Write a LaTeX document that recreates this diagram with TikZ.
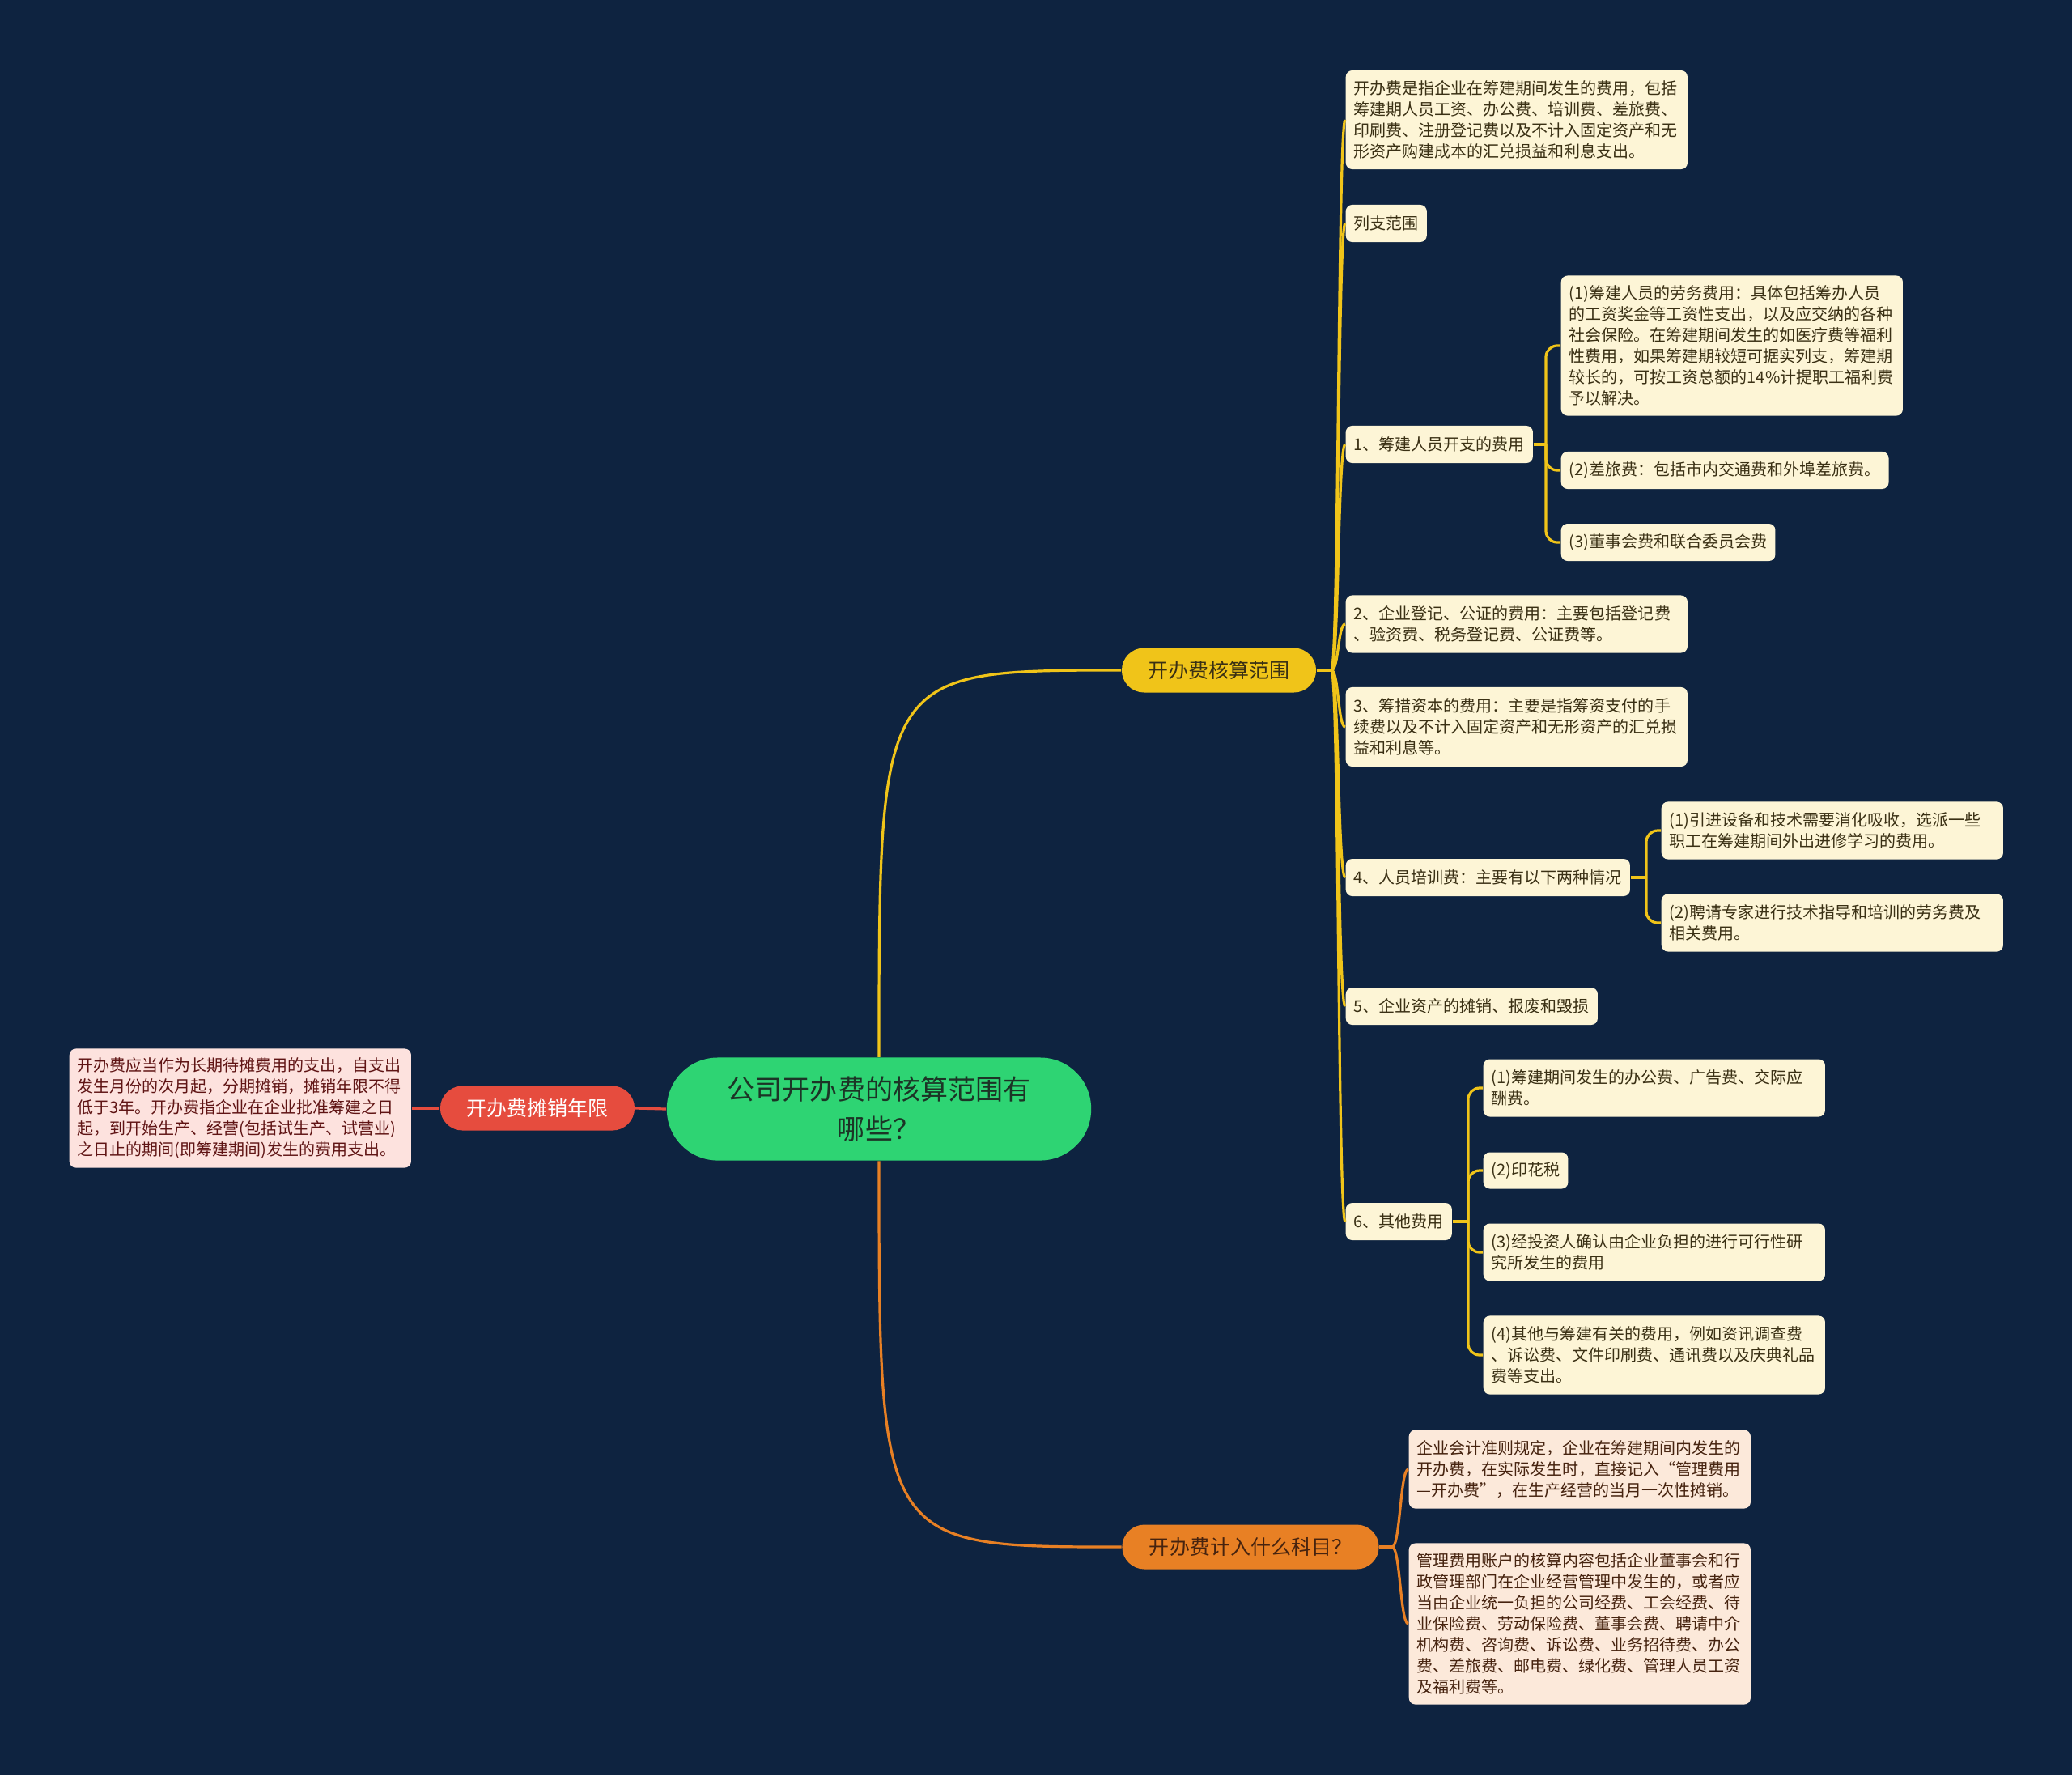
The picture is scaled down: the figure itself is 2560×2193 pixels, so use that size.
\documentclass[tikz,border=0pt]{standalone}
\usepackage{fontspec}
\setmainfont{Noto Sans CJK SC}
\newcommand\fsz[2]{\fontsize{#1}{#2}\selectfont}
\definecolor{bgc}{RGB}{14,35,64}
\definecolor{rootc}{RGB}{46,212,115}
\definecolor{roott}{RGB}{28,52,38}
\definecolor{cY}{RGB}{240,196,25}
\definecolor{cO}{RGB}{232,128,36}
\definecolor{cR}{RGB}{230,76,62}
\definecolor{leafY}{RGB}{253,245,214}
\definecolor{leafYt}{RGB}{58,48,20}
\definecolor{leafO}{RGB}{252,233,218}
\definecolor{leafOt}{RGB}{70,35,15}
\definecolor{leafR}{RGB}{253,226,222}
\definecolor{leafRt}{RGB}{95,20,20}
\tikzset{
  rootnode/.style={fill=rootc, text=roott, rounded corners=0.63cm, minimum width=5.24cm, minimum height=1.27cm, align=center, inner sep=0pt, font=\fsz{9.67pt}{13.66pt}},
  branch/.style={rounded corners=0.275cm, minimum height=0.55cm, inner sep=0pt, font=\fsz{7.11pt}{8.5pt}},
  leafbase/.style={rounded corners=0.08cm, inner xsep=0.1cm, inner ysep=0.05cm, anchor=west, align=left, font=\fsz{5.69pt}{7.4pt}},
  ly/.style={leafbase, fill=leafY, text=leafYt},
  lo/.style={leafbase, fill=leafO, text=leafOt},
  lr/.style={leafbase, fill=leafR, text=leafRt},
  wide/.style={text width=4.02cm},
  conY/.style={draw=cY, line width=0.032cm},
  conO/.style={draw=cO, line width=0.032cm},
  conR/.style={draw=cR, line width=0.032cm},
}
\begin{document}
\begin{tikzpicture}[x=0.01cm, y=-0.01cm]
\useasboundingbox (0,0) rectangle (2560,2193);
\fill[bgc] (0,0) rectangle (2560,2193);

% root and branches
\node[rootnode] (root) at (1086,1370) {公司开办费的核算范围有\\哪些？};
\node[branch, fill=cY, text=leafYt, minimum width=2.40cm] (b1) at (1506,828) {开办费核算范围};
\node[branch, fill=cO, text=leafOt, minimum width=3.17cm] (b2) at (1545,1911) {开办费计入什么科目？};
\node[branch, fill=cR, text=white, minimum width=2.40cm] (b3) at (664,1369) {开办费摊销年限};

% left leaf
\node[lr, wide, minimum height=1.47cm] (r1) at (85,1369) {开办费应当作为长期待摊费用的支出，自支出\\发生月份的次月起，分期摊销，摊销年限不得\\低于3年。开办费指企业在企业批准筹建之日\\起，到开始生产、经营(包括试生产、试营业)\\之日止的期间(即筹建期间)发生的费用支出。};

% yellow leaves
\node[ly, wide, minimum height=1.22cm] (a0) at (1662,148) {开办费是指企业在筹建期间发生的费用，包括\\筹建期人员工资、办公费、培训费、差旅费、\\印刷费、注册登记费以及不计入固定资产和无\\形资产购建成本的汇兑损益和利息支出。};
\node[ly, minimum height=0.46cm] (a1) at (1662,276) {列支范围};
\node[ly, minimum height=0.46cm] (a2) at (1662,549) {1、筹建人员开支的费用};
\node[ly, wide, minimum height=1.73cm] (a21) at (1928,427) {(1)筹建人员的劳务费用：具体包括筹办人员\\的工资奖金等工资性支出，以及应交纳的各种\\社会保险。在筹建期间发生的如医疗费等福利\\性费用，如果筹建期较短可据实列支，筹建期\\较长的，可按工资总额的14\%计提职工福利费\\予以解决。};
\node[ly, minimum height=0.46cm] (a22) at (1928,581) {(2)差旅费：包括市内交通费和外埠差旅费。};
\node[ly, minimum height=0.46cm] (a23) at (1928,670) {(3)董事会费和联合委员会费};
\node[ly, wide, minimum height=0.71cm] (a3) at (1662,771) {2、企业登记、公证的费用：主要包括登记费\\、验资费、税务登记费、公证费等。};
\node[ly, wide, minimum height=0.98cm] (a4) at (1662,898) {3、筹措资本的费用：主要是指筹资支付的手\\续费以及不计入固定资产和无形资产的汇兑损\\益和利息等。};
\node[ly, minimum height=0.46cm] (a5) at (1662,1084) {4、人员培训费：主要有以下两种情况};
\node[ly, wide, minimum height=0.71cm] (a51) at (2052,1026) {(1)引进设备和技术需要消化吸收，选派一些\\职工在筹建期间外出进修学习的费用。};
\node[ly, wide, minimum height=0.71cm] (a52) at (2052,1140) {(2)聘请专家进行技术指导和培训的劳务费及\\相关费用。};
\node[ly, minimum height=0.46cm] (a6) at (1662,1243) {5、企业资产的摊销、报废和毁损};
\node[ly, minimum height=0.46cm] (a7) at (1662,1509) {6、其他费用};
\node[ly, wide, minimum height=0.71cm] (a71) at (1832,1344) {(1)筹建期间发生的办公费、广告费、交际应\\酬费。};
\node[ly, minimum height=0.45cm] (a72) at (1832,1446) {(2)印花税};
\node[ly, wide, minimum height=0.71cm] (a73) at (1832,1547) {(3)经投资人确认由企业负担的进行可行性研\\究所发生的费用};
\node[ly, wide, minimum height=0.97cm] (a74) at (1832,1674) {(4)其他与筹建有关的费用，例如资讯调查费\\、诉讼费、文件印刷费、通讯费以及庆典礼品\\费等支出。};

% orange leaves
\node[lo, wide, minimum height=0.97cm] (o1) at (1740,1815) {企业会计准则规定，企业在筹建期间内发生的\\开办费，在实际发生时，直接记入“管理费用\\—开办费”，在生产经营的当月一次性摊销。};
\node[lo, wide, minimum height=1.99cm] (o2) at (1740,2006) {管理费用账户的核算内容包括企业董事会和行\\政管理部门在企业经营管理中发生的，或者应\\当由企业统一负担的公司经费、工会经费、待\\业保险费、劳动保险费、董事会费、聘请中介\\机构费、咨询费、诉讼费、业务招待费、办公\\费、差旅费、邮电费、绿化费、管理人员工资\\及福利费等。};

% root connectors
\draw[conY] (root.north) .. controls (1086,828) .. (b1.west);
\draw[conO] (root.south) .. controls (1086,1911) .. (b2.west);
\draw[conR] (root.west) -- (b3.east);
\draw[conR] (b3.west) -- (r1.east);

% yellow level 1
\coordinate (j1) at (1645,828);
\draw[conY] (b1.east) -- (j1);
\foreach \n in {a0,a1,a2,a3,a4,a5,a6,a7}
  \draw[conY] (j1) .. controls +(9,0) and +(-9,0) .. (\n.west);

% sub-branches
\coordinate (s2) at (1910,549);
\draw[conY] (a2.east) -- (s2);
\foreach \n in {a21,a22,a23}
  \draw[conY, rounded corners=0.14cm] (s2) |- (\n.west);
\coordinate (s5) at (2034,1084);
\draw[conY] (a5.east) -- (s5);
\foreach \n in {a51,a52}
  \draw[conY, rounded corners=0.14cm] (s5) |- (\n.west);
\coordinate (s7) at (1814,1509);
\draw[conY] (a7.east) -- (s7);
\foreach \n in {a71,a72,a73,a74}
  \draw[conY, rounded corners=0.14cm] (s7) |- (\n.west);

% orange level 1
\coordinate (j2) at (1720,1911);
\draw[conO] (b2.east) -- (j2);
\foreach \n in {o1,o2}
  \draw[conO] (j2) .. controls +(10,0) and +(-10,0) .. (\n.west);
\end{tikzpicture}
\end{document}
